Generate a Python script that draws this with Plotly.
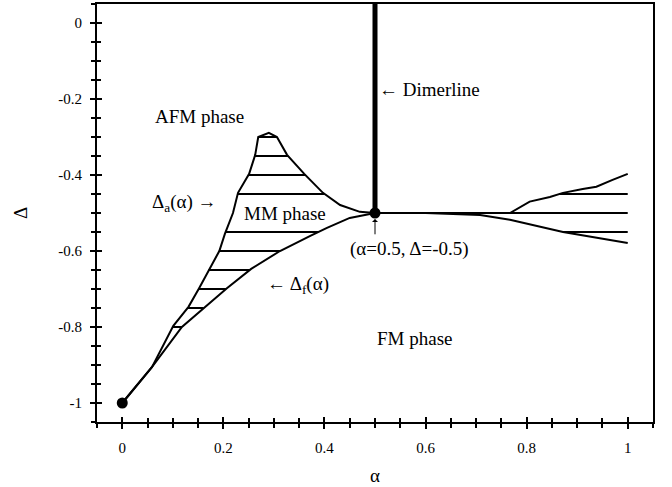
import numpy as np
import plotly.graph_objects as go

# ---- data ----
# Delta_a(alpha): upper boundary of the MM region
delta_a_alpha = [0.0, 0.059, 0.101, 0.131, 0.152, 0.172, 0.192, 0.203, 0.219, 0.229, 0.251,
                 0.263, 0.269, 0.29, 0.306, 0.326, 0.36, 0.397, 0.431, 0.47, 0.5, 0.767,
                 0.806, 0.846, 0.872, 0.911, 0.938, 0.97, 1.0]
delta_a = [-1.0, -0.905, -0.797, -0.747, -0.698, -0.647, -0.6, -0.555, -0.5, -0.447, -0.397,
           -0.347, -0.3, -0.289, -0.3, -0.347, -0.397, -0.447, -0.479, -0.497, -0.5, -0.5,
           -0.47, -0.458, -0.447, -0.437, -0.431, -0.413, -0.397]
# Delta_f(alpha): lower boundary of the MM region
delta_f_alpha = [0.0, 0.059, 0.118, 0.161, 0.207, 0.255, 0.312, 0.372, 0.405, 0.45, 0.49, 0.5,
                 0.6, 0.708, 0.767, 0.872, 1.0]
delta_f = [-1.0, -0.905, -0.8, -0.75, -0.698, -0.647, -0.6, -0.56, -0.539, -0.513, -0.503, -0.5,
           -0.5, -0.505, -0.518, -0.55, -0.579]
# dimer line
dimer_alpha = [0.5, 0.5]
dimer_delta = [-0.5, 0.05]
# special points
point_alpha = [0.0, 0.5]
point_delta = [-1.0, -0.5]
# hatch levels in the two MM regions
hatch_left_levels = [-0.3, -0.35, -0.4, -0.45, -0.55, -0.6, -0.65, -0.7, -0.75, -0.8]
hatch_right_levels = [-0.45, -0.5, -0.55]
hatch_left_span = [0.0, 0.5]
hatch_right_span = [0.5, 1.0]
# ticks
x_tickvals = [0, 0.2, 0.4, 0.6, 0.8, 1]
x_ticktext = ["0", "0.2", "0.4", "0.6", "0.8", "1"]
y_tickvals = [0, -0.2, -0.4, -0.6, -0.8, -1]
y_ticktext = ["0", "-0.2", "-0.4", "-0.6", "-0.8", "-1"]


def hatch_segments(levels, span):
    grid = np.linspace(span[0], span[1], 4001)
    up = np.interp(grid, delta_a_alpha, delta_a)
    lo = np.interp(grid, delta_f_alpha, delta_f)
    xs, ys = [], []
    for lv in levels:
        m = (lo <= lv + 1e-9) & (up >= lv - 1e-9)
        if m.any():
            sel = grid[m]
            xs += [sel.min(), sel.max(), None]
            ys += [lv, lv, None]
    return xs, ys


hx1, hy1 = hatch_segments(hatch_left_levels, hatch_left_span)
hx2, hy2 = hatch_segments(hatch_right_levels, hatch_right_span)

FONT = "Liberation Serif"
fig = go.Figure()
line_style = dict(color="black", width=2)
fig.add_trace(go.Scatter(x=hx1 + hx2, y=hy1 + hy2, mode="lines", line=line_style,
                         hoverinfo="skip", showlegend=False))
fig.add_trace(go.Scatter(x=delta_a_alpha, y=delta_a, mode="lines", line=line_style,
                         showlegend=False))
fig.add_trace(go.Scatter(x=delta_f_alpha, y=delta_f, mode="lines", line=line_style,
                         showlegend=False))
fig.add_trace(go.Scatter(x=dimer_alpha, y=dimer_delta, mode="lines",
                         line=dict(color="black", width=5), showlegend=False))
fig.add_trace(go.Scatter(x=point_alpha, y=point_delta, mode="markers",
                         marker=dict(color="black", size=11), showlegend=False, cliponaxis=False))
# invisible trace for overlay axes (inner halves of crossing ticks)
fig.add_trace(go.Scatter(x=[0.5], y=[-0.5], xaxis="x2", yaxis="y2", mode="markers",
                         marker=dict(opacity=0), showlegend=False, hoverinfo="skip"))

xr = [-0.05, 1.05]
yr = [-1.05, 0.05]
tick_font = dict(family=FONT, size=15, color="black")
fig.update_layout(
    width=672, height=487,
    margin=dict(l=97, r=19, t=4, b=65, autoexpand=False),
    plot_bgcolor="white", paper_bgcolor="white",
    font=dict(family=FONT, color="black"),
    xaxis=dict(range=xr, tickvals=x_tickvals, ticktext=x_ticktext, automargin=False,
               showline=True, linewidth=2, linecolor="black", mirror=True,
               ticks="outside", ticklen=5, tickwidth=2, tickcolor="black",
               minor=dict(dtick=0.05, tick0=0, ticks="outside", ticklen=4, tickwidth=2,
                          tickcolor="black"),
               ticklabelstandoff=6, tickfont=tick_font,
               showgrid=False, zeroline=False,
               title=dict(text="α", font=dict(family=FONT, size=19), standoff=14)),
    yaxis=dict(range=yr, tickvals=y_tickvals, ticktext=y_ticktext, automargin=False,
               showline=True, linewidth=2, linecolor="black", mirror=True,
               ticks="outside", ticklen=5, tickwidth=2, tickcolor="black",
               minor=dict(dtick=0.05, tick0=0, ticks="outside", ticklen=4, tickwidth=2,
                          tickcolor="black"),
               ticklabelstandoff=5, tickfont=tick_font,
               showgrid=False, zeroline=False,
               title=dict(text="Δ", font=dict(family=FONT, size=19), standoff=26)),
    xaxis2=dict(range=xr, overlaying="x", anchor="y2", side="bottom", tickvals=x_tickvals,
                automargin=False,
                showticklabels=False, ticks="inside", ticklen=5, tickwidth=2, tickcolor="black",
                minor=dict(dtick=0.05, tick0=0, ticks="inside", ticklen=4, tickwidth=2,
                           tickcolor="black"),
                showgrid=False, zeroline=False, showline=False),
    yaxis2=dict(range=yr, overlaying="y", anchor="x2", side="left", tickvals=y_tickvals,
                automargin=False,
                showticklabels=False, ticks="inside", ticklen=5, tickwidth=2, tickcolor="black",
                minor=dict(dtick=0.05, tick0=0, ticks="inside", ticklen=4, tickwidth=2,
                           tickcolor="black"),
                showgrid=False, zeroline=False, showline=False),
)

ann_font = dict(family=FONT, size=19, color="black")
labels = [
    (0.152, -0.247, "AFM phase", "center"),
    (0.123, -0.474, "Δ<sub>a</sub>(α) →", "center"),
    (0.322, -0.5, "MM phase", "center"),
    (0.348, -0.689, "← Δ<sub>f</sub>(α)", "center"),
    (0.504, -0.176, "← Dimerline", "left"),
    (0.569, -0.594, "(α=0.5, Δ=-0.5)", "center"),
    (0.579, -0.829, "FM phase", "center"),
]
for x, y, t, xa in labels:
    fig.add_annotation(x=x, y=y, text=t, showarrow=False, xanchor=xa, yanchor="middle",
                       font=ann_font)
# small arrow pointing at the critical point
fig.add_annotation(x=point_alpha[1], y=point_delta[1], ax=point_alpha[1], ay=-0.56,
                   axref="x", ayref="y", text="", showarrow=True, arrowhead=1,
                   arrowsize=1, arrowwidth=1, arrowcolor="black", standoff=6)

fig.write_html("out.html", post_script="document.body.style.margin='0';",
               config={"displayModeBar": False})
